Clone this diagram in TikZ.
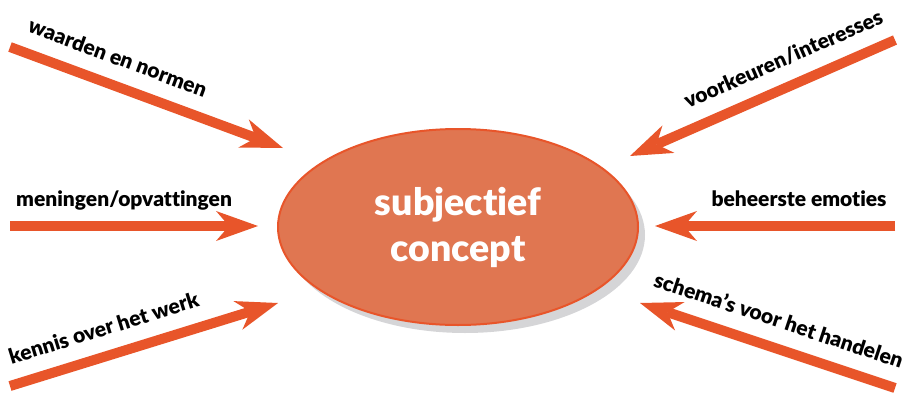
\documentclass[tikz,border=0pt]{standalone}
\usepackage{fontspec}
\setmainfont{Lato}[Ligatures={TeX,NoCommon},BoldFont={Lato Black}]
\usetikzlibrary{arrows.meta,shadows,shapes.geometric}
\definecolor{pijlrood}{HTML}{E8552A}
\definecolor{ovaalrood}{HTML}{E07651}
\definecolor{schaduw}{HTML}{D5D5D7}
\tikzset{
  pijl/.style={
    draw=pijlrood,
    line width=10pt,
    -{Stealth[length=42pt,width=30pt,inset=13pt,line width=0pt]}
  },
  tekst/.style={
    font=\bfseries\fontsize{21}{24}\selectfont,
    text=black,
    text depth=0pt,
    inner xsep=0pt,
    inner ysep=20pt,
    outer sep=0pt,
    sloped,
    anchor=south
  },
  concept/.style={
    shape=ellipse,
    draw=pijlrood,
    line width=2pt,
    fill=ovaalrood,
    minimum width=360pt,
    minimum height=196pt,
    inner sep=0pt,
    align=center,
    text=white,
    font=\bfseries\fontsize{37.5}{46}\selectfont,
    drop shadow={shadow xshift=7pt,shadow yshift=-8pt,opacity=1,fill=schaduw}
  }
}

\begin{document}
\begin{tikzpicture}[x=1pt,y=-1pt]
            \useasboundingbox (0,0) rectangle (906,394);
            \node[concept] (c) at (458,227) {subjectief\\concept};
            \coordinate (w0) at (10,47);   \coordinate (w1) at (283,148);
            \coordinate (m0) at (10,226);  \coordinate (m1) at (258,226);
            \coordinate (k0) at (10,386);  \coordinate (k1) at (278,303);
            \coordinate (v0) at (895,40);  \coordinate (v1) at (630,156);
            \coordinate (b0) at (895,226); \coordinate (b1) at (655,226);
            \coordinate (s0) at (895,388); \coordinate (s1) at (640,303);
            \draw[pijl] (w0)--(w1) node[tekst,pos=0.36] {waarden en normen};
            \draw[pijl] (m0)--(m1) node[tekst,pos=0.46] {meningen/opvattingen};
            \draw[pijl] (k0)--(k1) node[tekst,pos=0.38] {kennis over het werk};
            \draw[pijl] (v0)--(v1) node[tekst,pos=0.38] {voorkeuren/interesses};
            \draw[pijl] (b0)--(b1) node[tekst,pos=0.40] {beheerste emoties};
            \draw[pijl] (s0)--(s1) node[tekst,pos=0.49] {schema’s voor het handelen};
        \end{tikzpicture}
\end{document}
